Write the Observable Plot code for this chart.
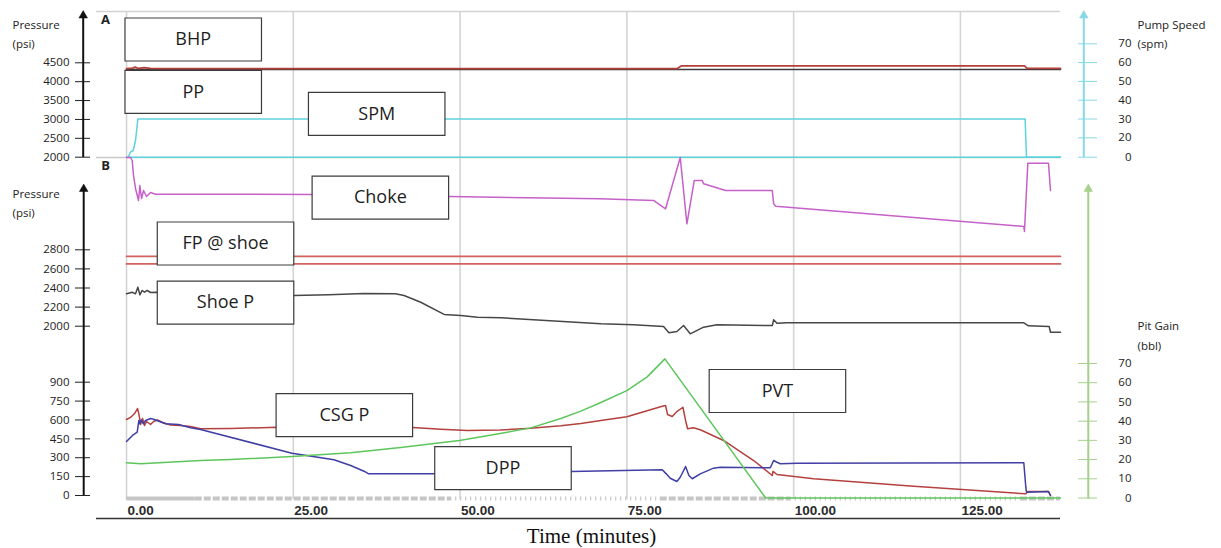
<!DOCTYPE html>
<html><head><meta charset="utf-8">
<script src="https://cdn.jsdelivr.net/npm/d3@7"></script>
<script src="https://cdn.jsdelivr.net/npm/@observablehq/plot@0.6"></script>
<style>
body{margin:0;background:#fff;}
#chart{position:relative;width:1221px;height:548px;overflow:hidden;background:#fff;}
#chart svg{position:absolute;left:0;top:0;}
</style></head><body><div id="chart"></div>
<script>
// ---------- data (time in minutes) ----------
const xTicks = [0, 25, 50, 75, 100, 125];
const ticksA = [2000, 2500, 3000, 3500, 4000, 4500];
const ticksPump = [0, 20, 30, 40, 50, 60, 70];
const ticksBup = [2000, 2200, 2400, 2600, 2800];
const ticksBlow = [0, 150, 300, 450, 600, 750, 900];
const ticksPit = [0, 10, 20, 30, 40, 50, 60, 70];

// Panel A (psi)
const bhp = [[0,4345],[0.9,4360],[1.3,4385],[1.8,4350],[2.6,4372],[3.6,4350],[5,4345],[82.5,4345],[83.2,4420],[134.6,4420],[135,4350],[140,4350]];
const pp = [[0,4322],[140,4322]];
// Pump speed (spm)
const spm = [[0,0],[0.25,0],[0.6,5.2],[1.0,6.9],[1.35,17.2],[1.7,30],[134.7,30],[134.9,0],[140,0]];
const spm2 = [[0,0],[140,0]];
// Choke (% open)
const choke = [[0,100],[0.6,100],[0.85,96],[1.05,76],[1.35,58.7],[1.8,42.7],[2.0,62.7],[2.25,45.3],[2.55,56],[3.0,48],[3.6,53.3],[4.35,51.1],[27.7,50.8],[48.4,48],[71.0,44.9],[79.0,42.7],[80.8,31.6],[83.0,100],[84.0,11.6],[85.1,69.3],[86.3,69.3],[86.5,65],[89.8,56],[96.8,56],[97.0,38.3],[97.3,35.1],[134.5,8],[134.6,1.3],[135.1,92.4],[138.2,92.4],[138.5,56]];
// Panel B upper (psi)
const fpHigh = [[0,2731],[140,2731]];
const fpLow = [[0,2652],[140,2652]];
const shoeP = [[0,2339],[0.85,2356],[1.35,2339],[1.7,2408],[2.0,2329],[2.35,2374],[2.7,2356],[3.1,2374],[3.6,2353],[4.35,2356],[25.1,2321],[30.3,2329],[35.6,2342],[40.3,2339],[41.6,2321],[44.1,2251],[47.6,2123],[50.1,2112],[52.6,2094],[56.1,2088],[71.1,2025],[76.0,2015],[80.5,1997],[81.3,1931],[82.5,1945],[83.5,2007],[84.5,1920],[86.5,1990],[88.5,2015],[96.8,2007],[97.0,2067],[97.5,2031],[99.0,2036],[134.5,2036],[135.2,2004],[138.3,1997],[138.5,1937],[140,1937]];
// Panel B lower (psi)
const csgP = [[0,604],[0.6,620],[1.2,651],[1.65,691],[1.9,635],[2.1,564],[2.4,612],[2.7,556],[3.0,588],[3.6,564],[4.05,588],[4.65,600],[5.4,580],[6.6,560],[8.1,556],[9.6,548],[11.1,530],[15.6,532],[22.5,542],[42.9,540],[47.1,527],[51.1,516],[56.0,520],[60.6,535],[65.1,555],[68.1,572],[71.1,596],[75.0,626],[80.3,709],[80.8,715],[81.1,643],[81.8,628],[82.5,667],[83.4,701],[83.8,596],[84.1,530],[85.0,538],[86.0,522],[89.5,437],[94.0,278],[96.8,159],[96.9,191],[97.5,167],[103.0,133],[118.0,74],[134.8,13],[135.1,32],[138.2,32],[138.5,0]];
const dpp = [[0,429],[0.3,445],[0.9,477],[1.6,503],[1.85,596],[2.0,570],[2.2,601],[2.5,570],[2.85,596],[3.6,612],[4.05,606],[5.85,570],[7.8,564],[9.6,538],[11.1,524],[24.8,336],[31.1,284],[33.6,238],[35.6,193],[36.3,172],[46.1,172],[66.7,191],[80.3,204],[80.9,172],[81.5,137],[82.5,111],[83.0,145],[83.8,230],[84.3,159],[84.8,133],[86.0,172],[88.0,217],[89.0,225],[96.5,220],[97.0,278],[97.5,264],[98.0,252],[100.5,257],[134.5,260],[134.8,66],[134.9,26],[138.2,32],[138.5,0]];
// Pit gain (bbl)
const pvt = [[0,18.3],[2.1,17.8],[11.1,19.5],[15.6,20.0],[24.8,21.6],[33.6,23.5],[41.1,26.3],[49.9,29.9],[56.0,33.6],[60.6,36.5],[65.1,41.4],[68.1,45.2],[71.1,49.7],[75.0,55.9],[78.0,62.9],[80.7,72.4],[95.8,0],[140,0]];
// event strip along the time axis
const stripSolid = [[0,10.3]];
const stripDashed = [[10.3,48.6],[80,99.5],[134,140]];
const stripTicks = [[48.6,80],[99.5,134]];

// annotation boxes (anchored in each panel's data units)
const labelsA = [{name:"BHP", t:10.0, v:5117},{name:"PP", t:10.0, v:3731}];
const labelsPump = [{name:"SPM", t:37.5, v:32.7}];
const labelsChoke = [{name:"Choke", t:38.05, v:46.5}];
const labelsBup = [{name:"FP @ shoe", t:14.84, v:2866},{name:"Shoe P", t:14.84, v:2247}];
const labelsBlow = [{name:"CSG P", t:32.65, v:638},{name:"DPP", t:56.43, v:218}];
const labelsPit = [{name:"PVT", t:97.57, v:55.7}];

// ---------- rendering ----------
const W = 1221, H = 548;
const chart = document.getElementById("chart");
const X = () => ({domain: [-4.5, 140], range: [96, 1060], axis: null, label: null});
const FONT = "'Open Sans', 'Noto Sans', sans-serif";
const baseStyle = {background: "transparent", overflow: "visible", fontFamily: FONT, fontSize: "11.5px", color: "#222"};
const xv = d => d[0], yv = d => d[1];

const boxSymbol = {draw(ctx) {
  ctx.moveTo(-68.25, -21.5); ctx.lineTo(68.25, -21.5); ctx.lineTo(68.25, 21.5); ctx.lineTo(-68.25, 21.5); ctx.closePath();
}};
const boxes = (labels) => [
  Plot.dot(labels, {x: "t", y: "v", symbol: boxSymbol, r: 3, fill: "white", stroke: "#3c3c3c", strokeWidth: 1.2}),
  Plot.text(labels, {x: "t", y: "v", text: "name", fontSize: 18, fontFamily: FONT, fill: "#1e1e1e"})
];
const line = (data, stroke, w = 1.5) => Plot.line(data, {x: xv, y: yv, stroke, strokeWidth: w});
const leftAxis = (ticks) => Plot.axisY(ticks, {anchor: "left", label: null, tickSize: 15, tickPadding: 6, tickFormat: d => String(d), stroke: "#222", fill: "#222"});
const rightAxis = (ticks, color) => Plot.axisY(ticks, {anchor: "right", label: null, tickSize: 19, tickPadding: 35, textAnchor: "end", tickFormat: d => String(d), stroke: color, fill: "#222"});
const Y = (o) => ({label: null, ...o});

function add(svg) { chart.appendChild(svg); }

// grid / time axis layer (data x, pixel y)
add(Plot.plot({
  width: W, height: H, marginLeft: 96, marginRight: 161, marginTop: 0, marginBottom: 46,
  x: X(), y: {domain: [0, H], range: [0, H], axis: null, label: null},
  style: {...baseStyle, background: "white", fontFamily: "'Liberation Sans', Arial, sans-serif", fontSize: "13.5px", fontWeight: "bold", color: "#2a2a2a"},
  marks: [
    Plot.ruleX(xTicks, {y1: 11, y2: 499, stroke: "#d4d4d4", strokeWidth: 1.6}),
    Plot.ruleY([11], {stroke: "#d2d2d2", strokeWidth: 1.5}),
    Plot.ruleY([157], {stroke: "#c9c9c9", strokeWidth: 1.5}),
    Plot.ruleY(stripSolid, {x1: xv, x2: yv, y: () => 498, stroke: "#c6c6c6", strokeWidth: 4}),
    Plot.ruleY(stripDashed, {x1: xv, x2: yv, y: () => 498, stroke: "#c6c6c6", strokeWidth: 4, strokeDasharray: "7,2"}),
    Plot.ruleY(stripTicks, {x1: xv, x2: yv, y: () => 498, stroke: "#bdbdbd", strokeWidth: 4, strokeDasharray: "1,4"}),
    Plot.ruleY([518], {stroke: "#333", strokeWidth: 1.6}),
    Plot.axisX(xTicks, {anchor: "bottom", label: null, tickSize: 0, tickPadding: 3, textAnchor: "start", dx: 1, tickFormat: d => d.toFixed(2), fill: "#2a2a2a"})
  ]
}));

// Panel A: pressure
add(Plot.plot({
  width: W, height: H, marginLeft: 90, marginRight: 161, marginTop: 0, marginBottom: 0,
  x: X(), y: Y({domain: [2000, 4500], range: [156.7, 62.3]}), style: baseStyle,
  marks: [line(pp, "#3d3d3d", 1.6), line(bhp, "#b23f3a", 1.7), leftAxis(ticksA), ...boxes(labelsA)]
}));

// Pump speed
add(Plot.plot({
  width: W, height: H, marginLeft: 96, marginRight: 144, marginTop: 0, marginBottom: 0,
  x: X(), y: Y({type: "linear", domain: [0, 20, 70], range: [156.7, 137.3, 43.3]}), style: baseStyle,
  marks: [line(spm2, "#5dd3de", 1.5), line(spm, "#5dd3de", 1.5), rightAxis(ticksPump, "#86d8e6"), ...boxes(labelsPump)]
}));

// Choke
add(Plot.plot({
  width: W, height: H, marginLeft: 96, marginRight: 161, marginTop: 0, marginBottom: 0,
  x: X(), y: Y({domain: [0, 100], range: [232, 157], axis: null}), style: baseStyle,
  marks: [line(choke, "#c561c9", 1.5), ...boxes(labelsChoke)]
}));

// Panel B upper: pressure
add(Plot.plot({
  width: W, height: H, marginLeft: 90, marginRight: 161, marginTop: 0, marginBottom: 0,
  x: X(), y: Y({domain: [2000, 2800], range: [325.7, 249.3]}), style: baseStyle,
  marks: [line(fpHigh, "#d0625f", 1.7), line(fpLow, "#d0625f", 1.7), line(shoeP, "#474747", 1.5), leftAxis(ticksBup), ...boxes(labelsBup)]
}));

// Panel B lower: pressure
add(Plot.plot({
  width: W, height: H, marginLeft: 90, marginRight: 161, marginTop: 0, marginBottom: 0,
  x: X(), y: Y({domain: [0, 900], range: [495, 381.7]}), style: baseStyle,
  marks: [line(csgP, "#b4413e", 1.5), line(dpp, "#3f3fa6", 1.5), leftAxis(ticksBlow), ...boxes(labelsBlow)]
}));

// Pit gain
add(Plot.plot({
  width: W, height: H, marginLeft: 96, marginRight: 144, marginTop: 0, marginBottom: 0,
  x: X(), y: Y({domain: [0, 70], range: [497.5, 363]}), style: baseStyle,
  marks: [line(pvt, "#5cc65c", 1.5), rightAxis(ticksPit, "#a6d18b"), ...boxes(labelsPit)]
}));

// decorations: axis lines, arrows, titles (pixel coordinates)
const axisLines = [
  {x: 82.7, y1: 15, y2: 157, c: "#111"},
  {x: 83.2, y1: 188, y2: 495, c: "#111"},
  {x: 1083.3, y1: 15, y2: 157, c: "#86d8e6"},
  {x: 1087.8, y1: 188, y2: 499, c: "#a6d18b"}
];
const arrowHeads = [
  {x: 82.7, y: 15, c: "#111"}, {x: 83.2, y: 188.5, c: "#111"},
  {x: 1083.3, y: 15, c: "#86d8e6"}, {x: 1087.8, y: 188.5, c: "#a6d18b"}
];
const titles = [
  {x: 12, y: 25, s: "Pressure"}, {x: 12, y: 44, s: "(psi)"},
  {x: 12, y: 194, s: "Pressure"}, {x: 12, y: 213, s: "(psi)"},
  {x: 1137, y: 25, s: "Pump Speed"}, {x: 1137, y: 44, s: "(spm)"},
  {x: 1137, y: 326, s: "Pit Gain"}, {x: 1137, y: 346, s: "(bbl)"}
];
const panelTags = [{x: 105, y: 19, s: "A"}, {x: 105, y: 165, s: "B"}];
add(Plot.plot({
  width: W, height: H, margin: 0,
  x: {domain: [0, W], range: [0, W], axis: null, label: null}, y: {domain: [0, H], range: [0, H], axis: null, label: null},
  style: baseStyle,
  marks: [
    Plot.ruleX(axisLines, {x: "x", y1: "y1", y2: "y2", stroke: "c", strokeWidth: 2}),
    Plot.dot(arrowHeads, {x: "x", y: "y", symbol: "triangle", r: 3.2, fill: "c", stroke: "c", strokeWidth: 0.5}),
    Plot.text(titles, {x: "x", y: "y", text: "s", textAnchor: "start", fontSize: 11.5, fill: "#222"}),
    Plot.text(panelTags, {x: "x", y: "y", text: "s", fontSize: 13, fontWeight: "bold", fill: "#222"}),
    Plot.text(["Time (minutes)"], {x: () => 591, y: () => 536, text: d => d, fontSize: 21, fontFamily: "'Liberation Serif', 'Times New Roman', serif", fill: "#111"})
  ]
}));
</script></body></html>
